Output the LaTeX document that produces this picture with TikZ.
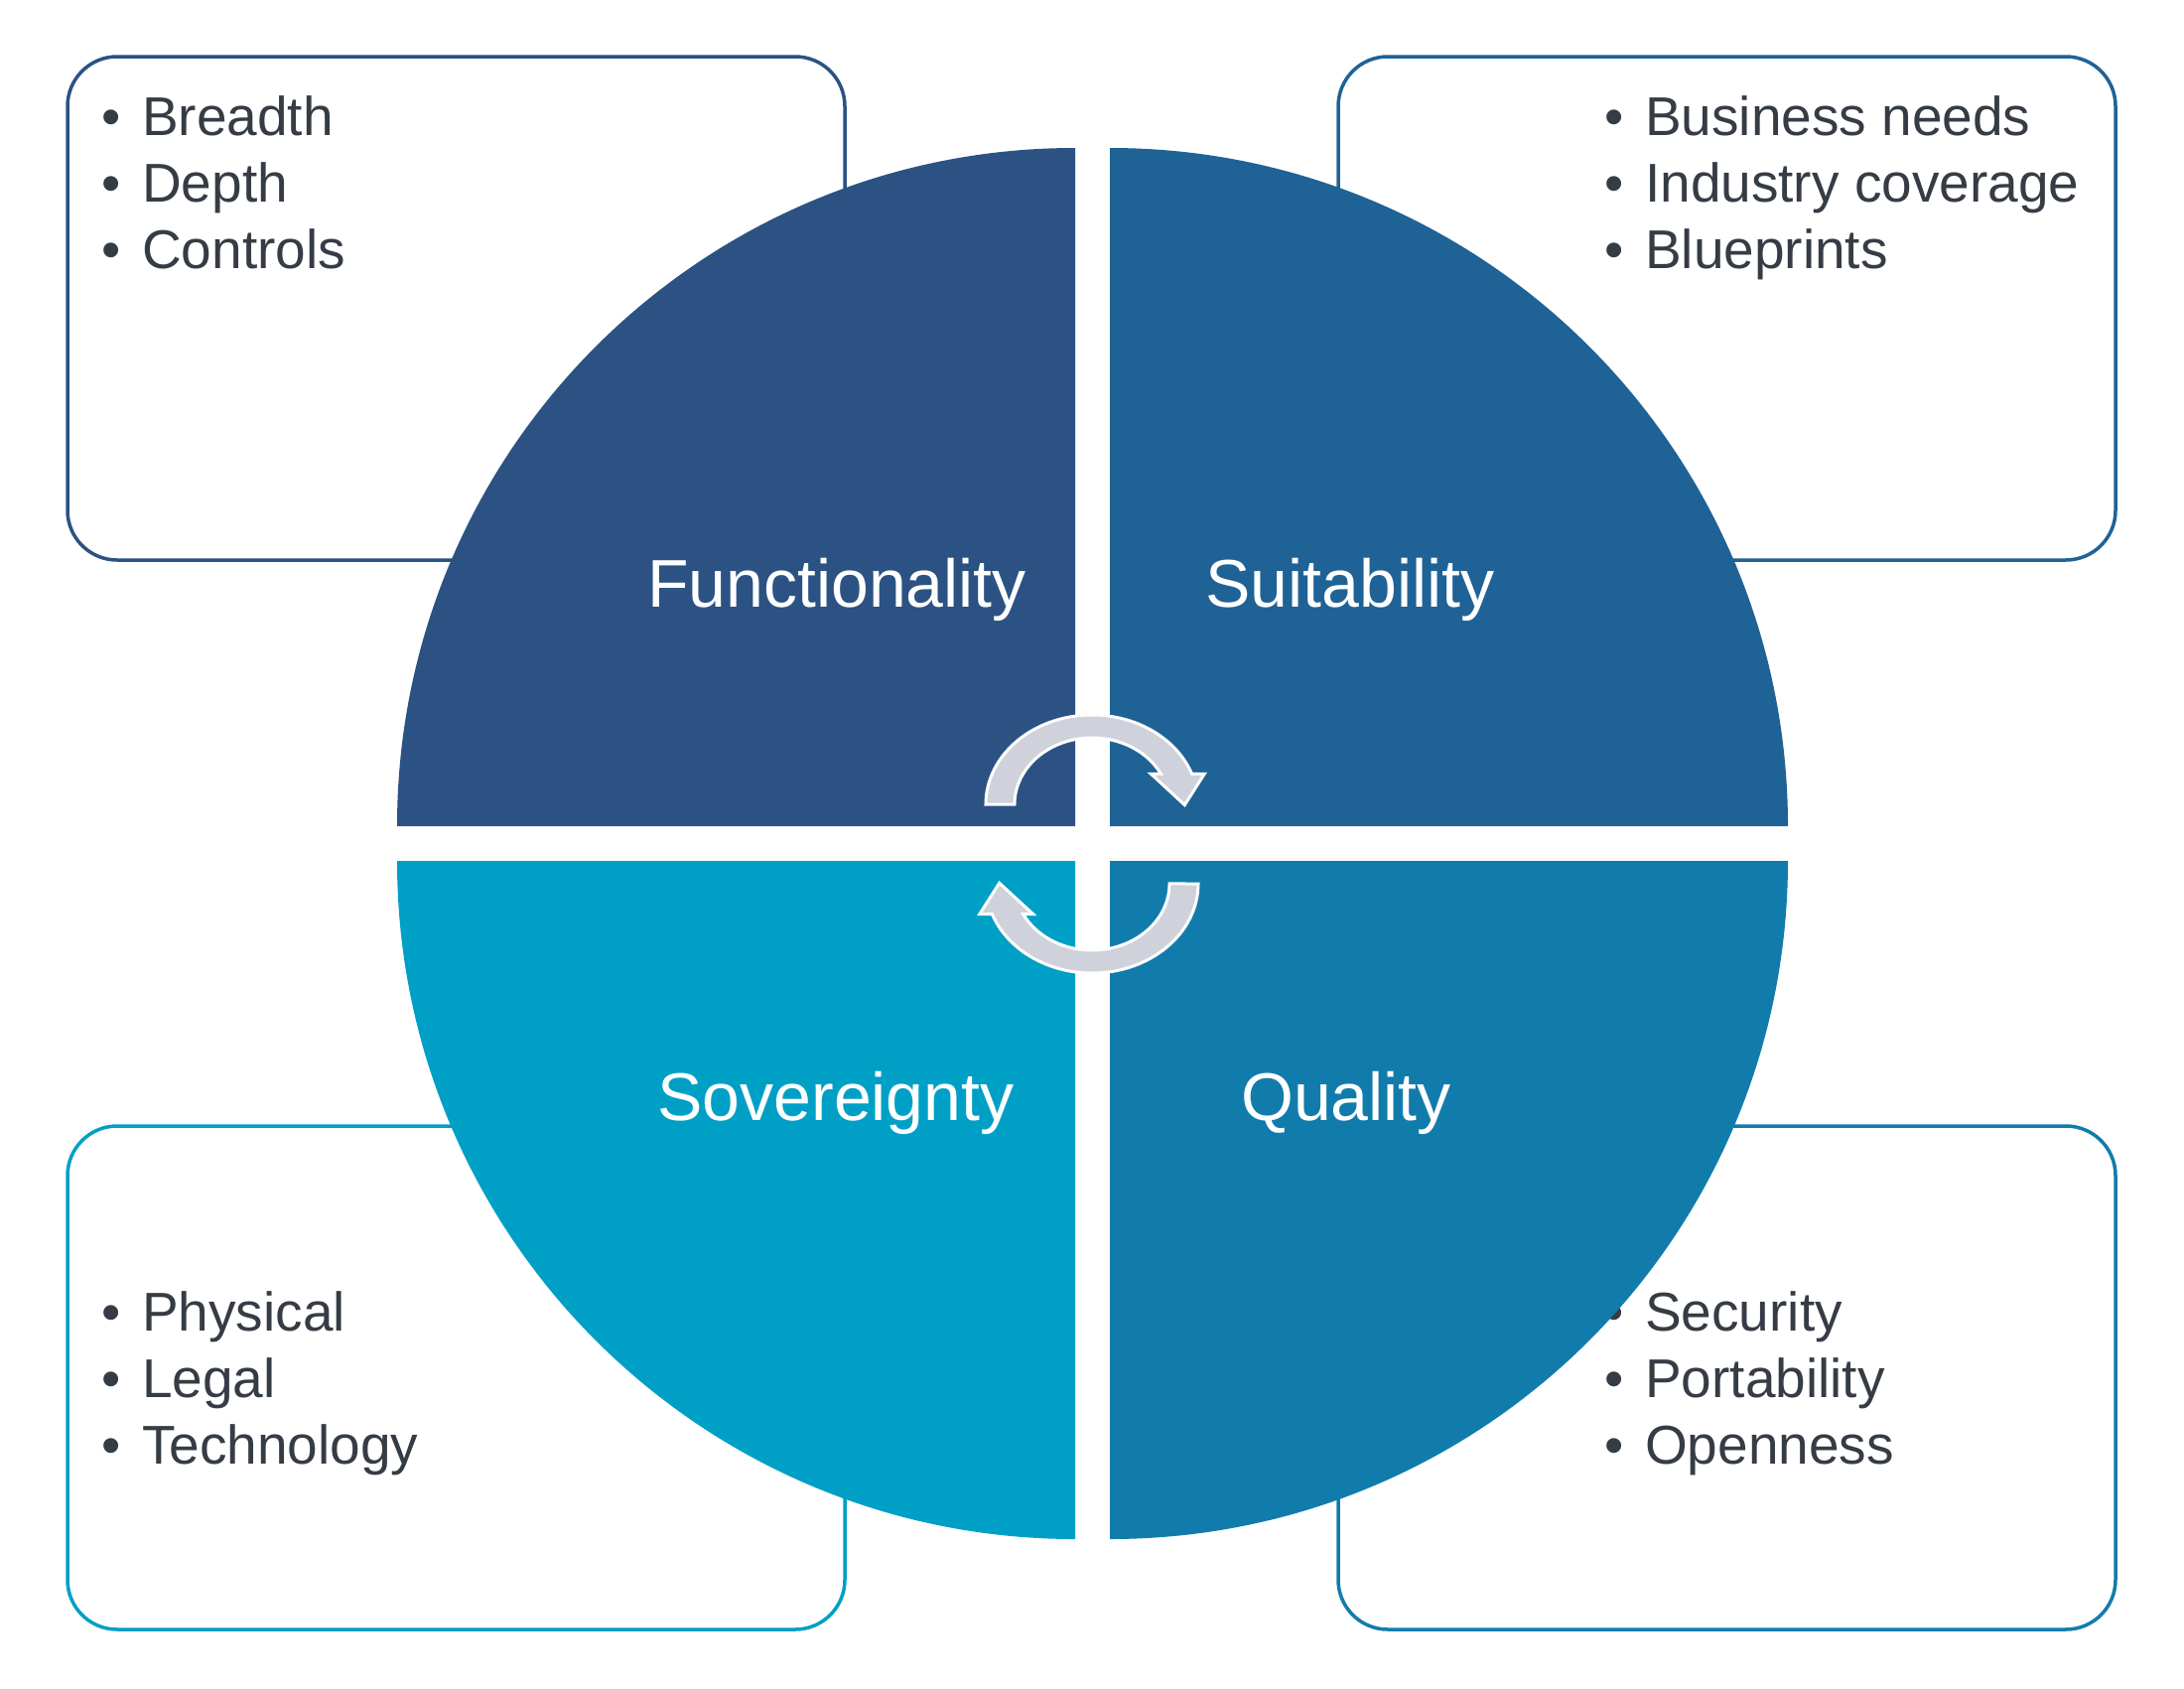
\documentclass[tikz,border=0pt]{standalone}
\usepackage{fontspec}
\setmainfont{Liberation Sans}
\definecolor{quadA}{HTML}{2B5283}
\definecolor{quadB}{HTML}{1F6296}
\definecolor{quadC}{HTML}{00A0C6}
\definecolor{quadD}{HTML}{117CAC}
\definecolor{inktext}{HTML}{363C45}
\definecolor{arrowgrey}{HTML}{CFD2DB}
\newcommand{\blt}{\llap{\textbullet\hspace{21pt}}}

\begin{document}
\begin{tikzpicture}[x=1pt,y=-1pt]
  \tikzstyle{panel}   = [line width=3.5pt,rounded corners=50pt,fill=white]
  \tikzstyle{bullets} = [inner sep=0pt,align=left,anchor=base west,text=inktext,font=\fontsize{55}{67}\selectfont]
  \tikzstyle{title}   = [inner sep=0pt,anchor=base,text=white,font=\fontsize{68}{80}\selectfont]
  \tikzstyle{turn}    = [fill=arrowgrey,draw=white,line width=3pt,line join=miter]
  \useasboundingbox (0,0) rectangle (2200,1700);
  % Boxes behind the circle (bullet nodes sit on their last baseline)
  \draw[panel,draw=quadA] (68,57)     rectangle (851,564);
  \draw[panel,draw=quadB] (1348,57)   rectangle (2131,564);
  \draw[panel,draw=quadC] (68,1134)   rectangle (851,1641);
  \draw[panel,draw=quadD] (1348,1134) rectangle (2131,1641);
  \path (143,270)   node[bullets](funcpts) {\blt Breadth\\\blt Depth\\\blt Controls};
  \path (1657,270)  node[bullets](suitpts) {\blt Business needs\\\blt Industry coverage\\\blt Blueprints};
  \path (143,1474)  node[bullets](sovepts) {\blt Physical\\\blt Legal\\\blt Technology};
  \path (1657,1474) node[bullets](qualpts) {\blt Security\\\blt Portability\\\blt Openness};
  % Four quarters of the circle
  \fill[quadA] (1083,832) -- (400,832)  arc[start angle=180,end angle=270,radius=683] -- cycle;
  \fill[quadB] (1118,832) -- (1118,149) arc[start angle=270,end angle=360,radius=683] -- cycle;
  \fill[quadD] (1118,867) -- (1801,867) arc[start angle=0,end angle=90,radius=683] -- cycle;
  \fill[quadC] (1083,867) -- (1083,1550) arc[start angle=90,end angle=180,radius=683] -- cycle;
  \path (843,611)   node[title](func) {Functionality};
  \path (1360,611)  node[title](suit) {Suitability};
  \path (842,1128)  node[title](sove) {Sovereignty};
  \path (1356,1128) node[title](qual) {Quality};
  % Turning arrows in the middle
  \foreach \rot in {0,180} {
    \begin{scope}[rotate around={\rot:(1100,850)}]
      \filldraw[turn] (993,810) arc[start angle=180,end angle=340.1,x radius=107,y radius=90]
        -- (1213.3,779.3) -- (1193.3,810.7) -- (1159.3,779.3) -- (1169.3,779.3)
        arc[start angle=332.7,end angle=180,x radius=78,y radius=67] -- cycle;
    \end{scope}
  }
\end{tikzpicture}
\end{document}
